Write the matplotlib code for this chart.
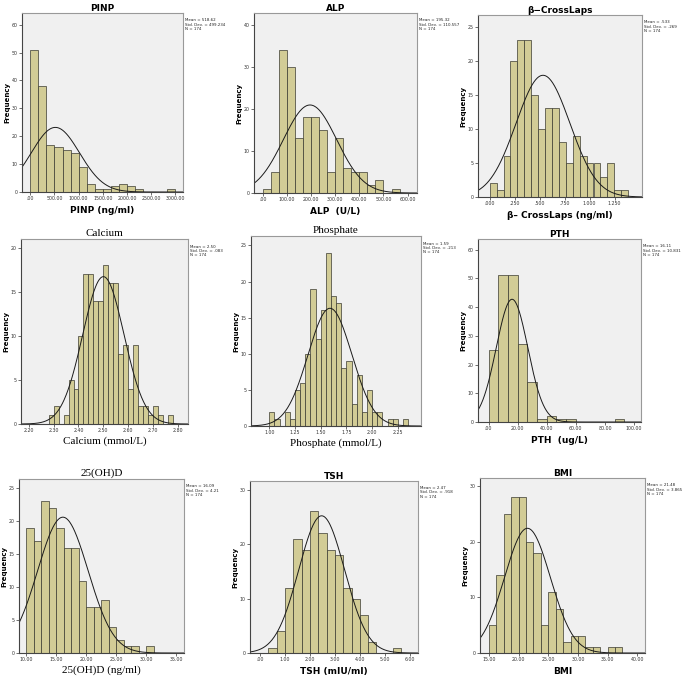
import numpy as np
import matplotlib.pyplot as plt

# counts per bin
pinp_counts = [51, 38, 17, 16, 15, 14, 9, 3, 1, 1, 2, 3, 2, 1, 0, 0, 0, 1]
alp_counts = [1, 5, 34, 30, 13, 18, 18, 15, 5, 13, 6, 5, 5, 2, 3, 0, 1]
ctx_counts = [2, 1, 6, 20, 23, 23, 15, 10, 13, 13, 8, 5, 9, 6, 5, 5, 3, 5, 1, 1]
ca_counts = [1, 2, 0, 1, 5, 4, 10, 17, 17, 14, 14, 18, 16, 16, 8, 9, 4, 9, 2, 2, 1, 2, 1, 0, 1]
p_counts = [2, 1, 0, 2, 1, 5, 6, 10, 19, 12, 16, 24, 18, 17, 8, 9, 3, 7, 2, 5, 2, 2, 0, 1, 1, 0, 1]
pth_counts = [25, 51, 51, 27, 14, 1, 2, 1, 1, 0, 0, 0, 0, 1]
vitd_counts = [19, 17, 23, 22, 19, 16, 16, 11, 7, 7, 8, 4, 2, 1, 1, 0, 1]
tsh_counts = [1, 4, 12, 21, 19, 26, 22, 19, 18, 12, 10, 7, 2, 0, 0, 1]
bmi_counts = [5, 14, 25, 28, 28, 20, 18, 5, 11, 8, 2, 3, 3, 1, 1, 0, 1, 1]

# summary stats printed by SPSS
means = [518.62, 195.32, .533, 2.50, 1.59, 16.11, 16.09, 2.47, 21.48]
sds = [499.234, 110.557, .269, .083, .213, 10.831, 4.21, .918, 3.865]
mean_txt = ['518.62', '195.32', '.533', '2.50', '1.59', '16.11', '16.09', '2.47', '21.48']
sd_txt = ['499.234', '110.557', '.269', '.083', '.213', '10.831', '4.21', '.918', '3.865']
N = 174

titles = ['PINP', 'ALP', 'β\u2212CrossLaps', 'Calcium', 'Phosphate', 'PTH', '25(OH)D', 'TSH', 'BMI']
xlabels = ['PINP (ng/ml)', 'ALP  (U/L)', 'β\u2013 CrossLaps (ng/ml)', 'Calcium (mmol/L)',
           'Phosphate (mmol/L)', 'PTH  (ug/L)', '25(OH)D (ng/ml)', 'TSH (mIU/ml)', 'BMI']
serif_label = [False, False, False, True, True, False, True, False, False]

bin_starts = [0, 0, 0, 2.28, 1.00, 0, 10.0, 1 / 3, 15.0]
bin_widths = [500 / 3, 100 / 3, .0692, .02, .05, 20 / 3, 1.25, 1 / 3, 1.25]

xticks = [np.arange(0, 3001, 500), np.arange(0, 601, 100), np.arange(0, 1.26, .25),
          np.arange(2.2, 2.81, .1), np.arange(1.0, 2.26, .25), np.arange(0, 101, 20),
          np.arange(10, 36, 5), np.arange(0, 7, 1), np.arange(15, 41, 5)]
xdec = [2, 2, 3, 2, 2, 2, 2, 2, 2]
yticks = [range(0, 61, 10), range(0, 41, 10), range(0, 26, 5), range(0, 21, 5),
          range(0, 26, 5), range(0, 61, 10), range(0, 26, 5), range(0, 31, 10), range(0, 31, 10)]
xlims = [(-172, 3159), (-37, 639), (-.117, 1.523), (2.169, 2.84), (.823, 2.474),
         (-7.3, 104.8), (8.77, 36.3), (-.4, 6.33), (13.48, 41.3)]
ylims = [64.2, 42.8, 26.7, 21.0, 26.3, 63.7, 26.4, 31.6, 31.5]

# plot boxes in pixels (left, top, right, bottom)
boxes = [(22, 13, 183, 192), (254, 13, 417, 193), (478, 15, 642, 197),
         (21, 239, 188, 424), (251, 236, 421, 426), (478, 239, 641, 422),
         (19, 479, 184, 653), (250, 481, 418, 653), (480, 478, 645, 653)]

all_counts = [pinp_counts, alp_counts, ctx_counts, ca_counts, p_counts,
              pth_counts, vitd_counts, tsh_counts, bmi_counts]

W, H = 685, 676
fig = plt.figure(figsize=(W / 100, H / 100), dpi=100)
fig.patch.set_facecolor('white')


def spss_fmt(v, d):
    s = f'{v:.{d}f}'
    if s.startswith('0.'):
        s = s[1:]
    return s


for i in range(9):
    l, t, r, b = boxes[i]
    ax = fig.add_axes([l / W, 1 - b / H, (r - l) / W, (b - t) / H])
    ax.set_facecolor('#F0F0F0')
    counts = np.array(all_counts[i])
    w = bin_widths[i]
    lefts = bin_starts[i] + w * np.arange(len(counts))
    ax.bar(lefts, counts, width=w, align='edge', color='#D2CC96',
           edgecolor='#3a3a30', linewidth=0.5)

    xs = np.linspace(xlims[i][0], xlims[i][1], 400)
    ys = N * w / (sds[i] * np.sqrt(2 * np.pi)) * np.exp(-0.5 * ((xs - means[i]) / sds[i]) ** 2)
    ax.plot(xs, ys, color='#1a1a1a', lw=0.7)

    ax.set_xlim(*xlims[i])
    ax.set_ylim(0, ylims[i])
    ax.set_xticks(xticks[i])
    ax.set_xticklabels([spss_fmt(v, xdec[i]) for v in xticks[i]])
    ax.set_yticks(list(yticks[i]))
    ax.tick_params(labelsize=3.4, length=2, width=0.5, pad=1.2, colors='#333333')
    for sp in ax.spines.values():
        sp.set_color('#999999')
        sp.set_linewidth(0.8)
    ax.spines['left'].set_color('#444444')
    ax.spines['bottom'].set_color('#444444')

    ax.set_ylabel('Frequency', fontsize=5, fontweight='bold', labelpad=1)
    if serif_label[i]:
        ax.set_title(titles[i], fontsize=8, family='Liberation Serif', pad=2)
        ax.set_xlabel(xlabels[i], fontsize=8, family='Liberation Serif', labelpad=2)
    else:
        ax.set_title(titles[i], fontsize=6.5, fontweight='bold', pad=1.5)
        ax.set_xlabel(xlabels[i], fontsize=6.5, fontweight='bold', labelpad=3)

    ax.text(1.012, 0.97, f'Mean = {mean_txt[i]}\nStd. Dev. = {sd_txt[i]}\nN = {N}',
            transform=ax.transAxes, fontsize=2.9, va='top', ha='left',
            linespacing=1.1, color='#222222')

fig.savefig('out.png', dpi=100)
